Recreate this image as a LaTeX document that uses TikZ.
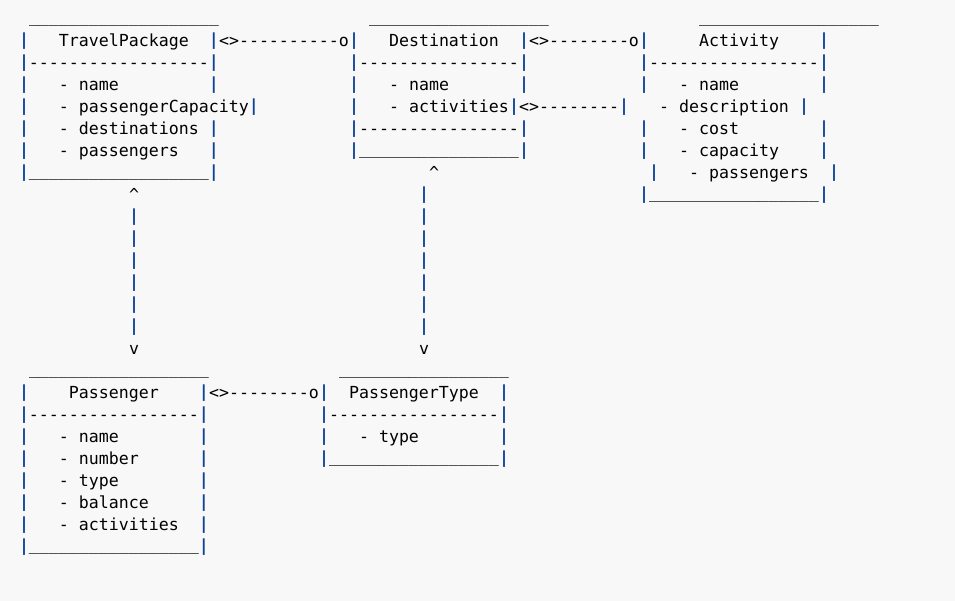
\documentclass[tikz,border=0pt]{standalone}
\usepackage{fontspec}
\setmonofont{DejaVu Sans Mono}
\definecolor{pipeblue}{RGB}{12,66,150}
\definecolor{paper}{RGB}{248,248,248}
\ExplSyntaxOn
\cs_new:Npn \repchar #1#2 { \prg_replicate:nn {#1} {#2} }
\ExplSyntaxOff
\newcommand\pipe{\raisebox{1.2pt}{\textcolor{pipeblue}{\bfseries|}}}
\newcommand\lowline[1]{\raisebox{1.6pt}{\repchar{#1}{\_}}}
\newcommand\dashrun[1]{\repchar{#1}{-\kern0pt}}
\newcommand\blanks[1]{\repchar{#1}{~}}
\begin{document}
\begin{tikzpicture}[x=7.5pt,y=16.5pt]
    \tikzset{txt/.style= {anchor=base west,
                          inner sep=0pt,
                          outer sep=0pt,
                          text=black,
                          font=\ttfamily\fontsize{12.457}{16.5}\selectfont},
            }
    \path[fill=paper,use as bounding box] (0.1,1.136) rectangle (95.6,-26.182);
    \path
    (3,0)    node[txt](tp0) {\lowline{19}}
    (2,-1)   node[txt](tp1) {\pipe\blanks{3}TravelPackage\blanks{2}\pipe}
    (2,-2)   node[txt](tp2) {\pipe\dashrun{18}\pipe}
    (2,-3)   node[txt](tp3) {\pipe\blanks{3}-~name\blanks{9}\pipe}
    (2,-4)   node[txt](tp4) {\pipe\blanks{3}-~passengerCapacity\pipe}
    (2,-5)   node[txt](tp5) {\pipe\blanks{3}-~destinations~\pipe}
    (2,-6)   node[txt](tp6) {\pipe\blanks{3}-~passengers\blanks{3}\pipe}
    (2,-7)   node[txt](tp7) {\pipe\lowline{18}\pipe}
    (37,0)   node[txt](ds0) {\lowline{18}}
    (35,-1)  node[txt](ds1) {\pipe\blanks{3}Destination\blanks{2}\pipe}
    (35,-2)  node[txt](ds2) {\pipe\dashrun{16}\pipe}
    (35,-3)  node[txt](ds3) {\pipe\blanks{3}-~name\blanks{7}\pipe}
    (35,-4)  node[txt](ds4) {\pipe\blanks{3}-~activities\pipe}
    (35,-5)  node[txt](ds5) {\pipe\dashrun{16}\pipe}
    (35,-6)  node[txt](ds6) {\pipe\lowline{16}\pipe}
    (70,0)   node[txt](ac0) {\lowline{18}}
    (64,-1)  node[txt](ac1) {\pipe\blanks{5}Activity\blanks{4}\pipe}
    (64,-2)  node[txt](ac2) {\pipe\dashrun{17}\pipe}
    (64,-3)  node[txt](ac3) {\pipe\blanks{3}-~name\blanks{8}\pipe}
    (66,-4)  node[txt](ac4) {-~description~\pipe}
    (64,-5)  node[txt](ac5) {\pipe\blanks{3}-~cost\blanks{8}\pipe}
    (64,-6)  node[txt](ac6) {\pipe\blanks{3}-~capacity\blanks{4}\pipe}
    (65,-7)  node[txt](ac7) {\pipe\blanks{3}-~passengers\blanks{2}\pipe}
    (64,-8)  node[txt](ac8) {\pipe\lowline{17}\pipe}
    (3,-16)  node[txt](ps0) {\lowline{18}}
    (2,-17)  node[txt](ps1) {\pipe\blanks{4}Passenger\blanks{4}\pipe}
    (2,-18)  node[txt](ps2) {\pipe\dashrun{17}\pipe}
    (2,-19)  node[txt](ps3) {\pipe\blanks{3}-~name\blanks{8}\pipe}
    (2,-20)  node[txt](ps4) {\pipe\blanks{3}-~number\blanks{6}\pipe}
    (2,-21)  node[txt](ps5) {\pipe\blanks{3}-~type\blanks{8}\pipe}
    (2,-22)  node[txt](ps6) {\pipe\blanks{3}-~balance\blanks{5}\pipe}
    (2,-23)  node[txt](ps7) {\pipe\blanks{3}-~activities\blanks{2}\pipe}
    (2,-24)  node[txt](ps8) {\pipe\lowline{17}\pipe}
    (34,-16) node[txt](pt0) {\lowline{17}}
    (32,-17) node[txt](pt1) {\pipe\blanks{2}PassengerType\blanks{2}\pipe}
    (32,-18) node[txt](pt2) {\pipe\dashrun{17}\pipe}
    (32,-19) node[txt](pt3) {\pipe\blanks{3}-~type\blanks{8}\pipe}
    (32,-20) node[txt](pt4) {\pipe\lowline{17}\pipe}
    (22,-1)  node[txt](tpds) {<>\dashrun{10}o}
    (53,-1)  node[txt](dsac) {<>\dashrun{8}o}
    (52,-4)  node[txt](dsact) {<>\dashrun{8}\pipe}
    (21,-17) node[txt](pspt) {<>\dashrun{8}o}
    (13,-8)  node[txt](tpup) {\textasciicircum}
    (13,-15) node[txt](psdown) {v}
    (43,-7)  node[txt](dsup) {\textasciicircum}
    (42,-15) node[txt](ptdown) {v}
    ;
    \foreach \r in {9,...,14}
        \path (13,-\r) node[txt](tpps\r) {\pipe};
    \foreach \r in {8,...,14}
        \path (42,-\r) node[txt](dspt\r) {\pipe};
\end{tikzpicture}
\end{document}
